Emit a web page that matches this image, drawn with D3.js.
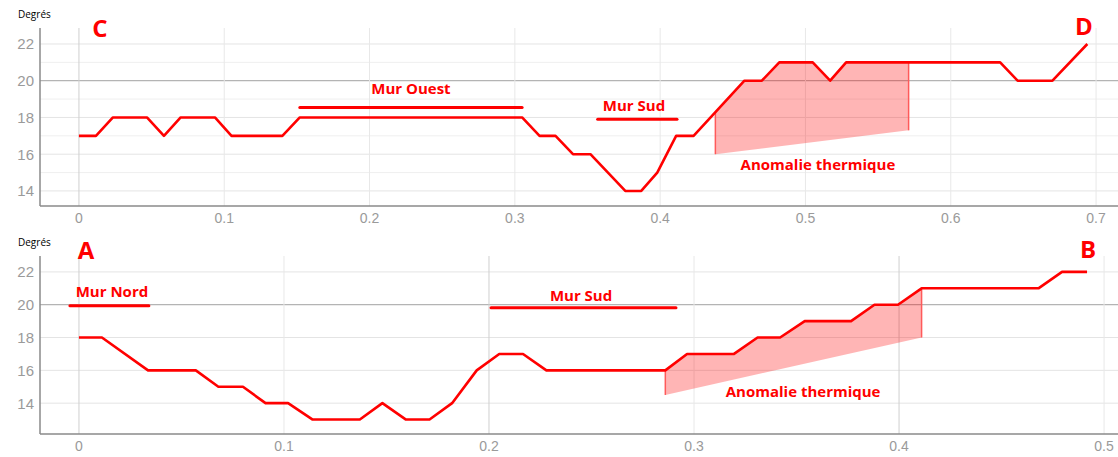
<!DOCTYPE html>
<html>
<head>
<meta charset="utf-8">
<script src="https://cdn.jsdelivr.net/npm/d3@7"></script>
<style>
  body { margin: 0; background: #fff; }
  svg text { font-family: 'Liberation Sans', Arial, sans-serif; }
  .note { font-family: 'Open Sans', sans-serif; font-weight: bold; fill: #ff0000; }
</style>
</head>
<body>
<div id="chart"></div>
<script>
// top profile : C -> D
const topX = [0, 0.0117, 0.0234, 0.0468, 0.0585, 0.070, 0.0936, 0.105, 0.140, 0.152, 0.305, 0.317, 0.328, 0.340, 0.352, 0.376, 0.387, 0.398, 0.411, 0.423, 0.458, 0.470, 0.482, 0.505, 0.517, 0.528, 0.634, 0.646, 0.670, 0.694]
const topY = [17, 17, 18, 18, 17, 18, 18, 17, 17, 18, 18, 17, 17, 16, 16, 14, 14, 15, 17, 17, 20, 20, 21, 21, 20, 21, 21, 20, 20, 22]

// bottom profile : A -> B
const botX = [0, 0.0112, 0.0337, 0.057, 0.068, 0.080, 0.091, 0.102, 0.114, 0.137, 0.148, 0.1595, 0.171, 0.182, 0.194, 0.205, 0.2166, 0.228, 0.286, 0.2966, 0.3195, 0.331, 0.342, 0.354, 0.3766, 0.388, 0.3995, 0.411, 0.468, 0.4795, 0.4917]
const botY = [18, 18, 16, 16, 15, 15, 14, 14, 13, 13, 14, 13, 13, 14, 16, 17, 17, 16, 16, 17, 17, 18, 18, 19, 19, 20, 20, 21, 21, 22, 22]

const topXTicks = [0, 0.1, 0.2, 0.3, 0.4, 0.5, 0.6, 0.7]
const botXTicks = [0, 0.1, 0.2, 0.3, 0.4, 0.5]
const yTicks = [14, 16, 18, 20, 22]

// wall segments [x0, x1, y] and labels [text, x, y]
const topWalls = [[0.152, 0.305, 18.54], [0.357, 0.4116, 17.9]]
const topWallLabels = [['Mur Ouest', 0.2285, 19.3], ['Mur Sud', 0.382, 18.33]]
const botWalls = [[-0.0044, 0.0341, 19.94], [0.201, 0.2912, 19.82]]
const botWallLabels = [['Mur Nord', 0.0161, 20.48], ['Mur Sud', 0.2449, 20.24]]

// anomaly [x0, x1, bottom y0, bottom y1] and its label
const topAnomaly = [0.438, 0.571, 16, 17.3]
const topAnomalyLabel = ['Anomalie thermique', 0.5086, 15.12]
const botAnomaly = [0.286, 0.411, 14.5, 18]
const botAnomalyLabel = ['Anomalie thermique', 0.3532, 14.36]

const topEnds = [['C', 0.01445, 22.4], ['D', 0.6917, 22.51]]
const botEnds = [['A', 0.0034, 22.79], ['B', 0.4922, 22.85]]

const width = 1118
const height = 457

const svg = d3
  .select('#chart')
  .append('svg')
  .attr('width', width)
  .attr('height', height)

function interp(xs, ys, v) {
  for (let i = 1; i < xs.length; i++) {
    if (v <= xs[i]) {
      const t = (v - xs[i - 1]) / (xs[i] - xs[i - 1])
      return ys[i - 1] + t * (ys[i] - ys[i - 1])
    }
  }
  return ys[ys.length - 1]
}

function panel(opts) {
  const g = svg.append('g')
  const x = d3.scaleLinear().domain(opts.xDomain).range([40, width])
  const y = d3.scaleLinear().domain(opts.yDomain).range([opts.bottom, opts.top])

  // horizontal grid
  g.selectAll('.hgrid')
    .data(opts.hGrid)
    .enter()
    .append('line')
    .attr('x1', 40)
    .attr('x2', width)
    .attr('y1', d => y(d))
    .attr('y2', d => y(d))
    .attr('stroke', d => (d === 20 ? '#b4b4b4' : d % 2 === 0 ? '#e4e4e4' : '#efefef'))
    .attr('stroke-width', d => (d === 20 ? 1.3 : 1))

  // vertical grid
  g.selectAll('.vgrid')
    .data(opts.xTicks)
    .enter()
    .append('line')
    .attr('x1', d => x(d))
    .attr('x2', d => x(d))
    .attr('y1', opts.top)
    .attr('y2', opts.bottom)
    .attr('stroke', d => (d === 0 || opts.darkX.includes(d) ? '#cfcfcf' : '#e8e8e8'))
    .attr('stroke-width', 1)

  // axis lines
  g.append('line')
    .attr('x1', 40).attr('x2', 40)
    .attr('y1', opts.top).attr('y2', opts.bottom)
    .attr('stroke', '#8a8a8a').attr('stroke-width', 1.5)
  g.append('line')
    .attr('x1', 40).attr('x2', width)
    .attr('y1', opts.bottom).attr('y2', opts.bottom)
    .attr('stroke', '#8a8a8a').attr('stroke-width', 1.5)

  g.selectAll('.ylab')
    .data(yTicks)
    .enter()
    .append('text')
    .attr('x', 34)
    .attr('y', d => y(d))
    .attr('dy', '0.36em')
    .attr('text-anchor', 'end')
    .attr('font-size', 15)
    .attr('fill', '#9a9a9a')
    .text(d => d)

  g.selectAll('.xlab')
    .data(opts.xTicks)
    .enter()
    .append('text')
    .attr('x', d => x(d))
    .attr('y', opts.bottom + 12)
    .attr('dy', '0.36em')
    .attr('text-anchor', 'middle')
    .attr('font-size', 14)
    .attr('fill', '#9a9a9a')
    .text(d => d)

  g.append('text')
    .attr('x', 18)
    .attr('y', opts.top - 10)
    .attr('font-size', 10)
    .attr('fill', '#000')
    .style('font-family', "'Open Sans', sans-serif")
    .text('Degrés')

  // anomaly area
  const [a0, a1, b0, b1] = opts.anomaly
  const poly = [[a0, interp(opts.xs, opts.ys, a0)]]
  opts.xs.forEach((v, i) => {
    if (v > a0 && v < a1) poly.push([v, opts.ys[i]])
  })
  poly.push([a1, interp(opts.xs, opts.ys, a1)])
  poly.push([a1, b1])
  poly.push([a0, b0])
  g.append('path')
    .attr('d', 'M' + poly.map(p => [x(p[0]), y(p[1])].join(',')).join('L') + 'Z')
    .attr('fill', '#ff0000')
    .attr('fill-opacity', 0.29)
  g.selectAll('.aedge')
    .data([[a0, b0], [a1, b1]])
    .enter()
    .append('line')
    .attr('x1', d => x(d[0]))
    .attr('x2', d => x(d[0]))
    .attr('y1', d => y(d[1]))
    .attr('y2', d => y(interp(opts.xs, opts.ys, d[0])))
    .attr('stroke', '#ff5a5a')
    .attr('stroke-width', 1.5)

  // profile line
  const line = d3.line().x(d => x(d[0])).y(d => y(d[1]))
  g.append('path')
    .datum(opts.xs.map((v, i) => [v, opts.ys[i]]))
    .attr('d', line)
    .attr('fill', 'none')
    .attr('stroke', '#ff0000')
    .attr('stroke-width', 2.6)
    .attr('stroke-linejoin', 'round')

  // walls
  g.selectAll('.wall')
    .data(opts.walls)
    .enter()
    .append('line')
    .attr('x1', d => x(d[0]))
    .attr('x2', d => x(d[1]))
    .attr('y1', d => y(d[2]))
    .attr('y2', d => y(d[2]))
    .attr('stroke', '#ff0000')
    .attr('stroke-width', 3)
    .attr('stroke-linecap', 'round')

  g.selectAll('.note')
    .data(opts.labels.concat([opts.anomalyLabel]))
    .enter()
    .append('text')
    .attr('class', 'note')
    .attr('x', d => x(d[1]))
    .attr('y', d => y(d[2]))
    .attr('text-anchor', 'middle')
    .attr('font-size', 15)
    .text(d => d[0])

  g.selectAll('.end')
    .data(opts.ends)
    .enter()
    .append('text')
    .attr('class', 'note')
    .attr('x', d => x(d[1]))
    .attr('y', d => y(d[2]))
    .attr('text-anchor', 'middle')
    .attr('font-size', 24)
    .attr('fill', '#ff2020')
    .text(d => d[0])
}

panel({
  xs: topX,
  ys: topY,
  xDomain: [-0.0268, 0.7151],
  yDomain: [13.18, 22.87],
  top: 28,
  bottom: 206,
  xTicks: topXTicks,
  darkX: [],
  hGrid: [14, 15, 16, 17, 18, 19, 20, 21, 22],
  anomaly: topAnomaly,
  anomalyLabel: topAnomalyLabel,
  walls: topWalls,
  labels: topWallLabels,
  ends: topEnds
})

panel({
  xs: botX,
  ys: botY,
  xDomain: [-0.019, 0.5068],
  yDomain: [12.12, 22.97],
  top: 256,
  bottom: 434,
  xTicks: botXTicks,
  darkX: [0.2, 0.4],
  hGrid: [14, 16, 18, 20, 22],
  anomaly: botAnomaly,
  anomalyLabel: botAnomalyLabel,
  walls: botWalls,
  labels: botWallLabels,
  ends: botEnds
})
</script>
</body>
</html>
